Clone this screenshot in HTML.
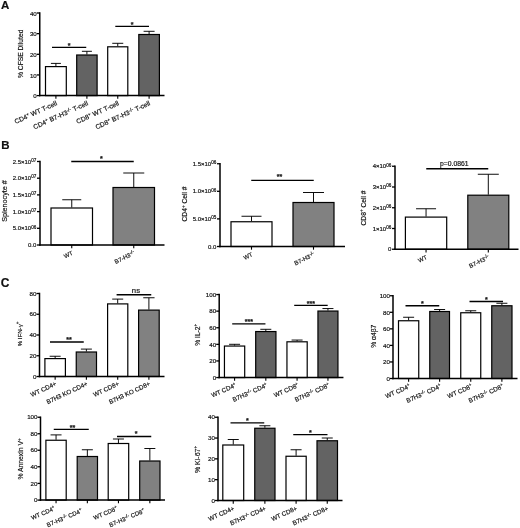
<!DOCTYPE html>
<html><head><meta charset="utf-8"><title>Figure</title>
<style>
html,body{margin:0;padding:0;background:#fff;}
svg{display:block;filter:blur(0.3px);font-family:"Liberation Sans","DejaVu Sans",sans-serif;fill:#111;}
svg text{fill:#111;stroke:#111;stroke-width:0.18px;}
</style></head><body>
<svg width="520" height="528" viewBox="0 0 520 528">
<rect x="0" y="0" width="520" height="528" fill="#fff"/>
<g transform="translate(0 0)">
<line x1="55.90" y1="63.40" x2="55.90" y2="66.10" stroke="#000" stroke-width="0.95" stroke-linecap="butt"/>
<line x1="50.90" y1="63.40" x2="60.90" y2="63.40" stroke="#000" stroke-width="0.95" stroke-linecap="butt"/>
<rect x="45.50" y="66.60" width="20.80" height="29.00" fill="#ffffff" stroke="#000" stroke-width="1.2"/>
<line x1="55.90" y1="95.60" x2="55.90" y2="98.80" stroke="#000" stroke-width="1.1" stroke-linecap="butt"/>
<line x1="86.90" y1="51.30" x2="86.90" y2="54.50" stroke="#000" stroke-width="0.95" stroke-linecap="butt"/>
<line x1="81.90" y1="51.30" x2="91.90" y2="51.30" stroke="#000" stroke-width="0.95" stroke-linecap="butt"/>
<rect x="76.70" y="55.00" width="20.40" height="40.60" fill="#636363" stroke="#000" stroke-width="1.2"/>
<line x1="86.90" y1="95.60" x2="86.90" y2="98.80" stroke="#000" stroke-width="1.1" stroke-linecap="butt"/>
<line x1="117.75" y1="43.30" x2="117.75" y2="46.30" stroke="#000" stroke-width="0.95" stroke-linecap="butt"/>
<line x1="112.25" y1="43.30" x2="123.25" y2="43.30" stroke="#000" stroke-width="0.95" stroke-linecap="butt"/>
<rect x="107.70" y="46.80" width="20.10" height="48.80" fill="#ffffff" stroke="#000" stroke-width="1.2"/>
<line x1="117.75" y1="95.60" x2="117.75" y2="98.80" stroke="#000" stroke-width="1.1" stroke-linecap="butt"/>
<line x1="149.10" y1="31.30" x2="149.10" y2="34.00" stroke="#000" stroke-width="0.95" stroke-linecap="butt"/>
<line x1="143.60" y1="31.30" x2="154.60" y2="31.30" stroke="#000" stroke-width="0.95" stroke-linecap="butt"/>
<rect x="138.80" y="34.50" width="20.60" height="61.10" fill="#636363" stroke="#000" stroke-width="1.2"/>
<line x1="149.10" y1="95.60" x2="149.10" y2="98.80" stroke="#000" stroke-width="1.1" stroke-linecap="butt"/>
<line x1="39.75" y1="12.25" x2="39.75" y2="96.35" stroke="#000" stroke-width="1.5" stroke-linecap="butt"/>
<line x1="39.00" y1="95.60" x2="164.50" y2="95.60" stroke="#000" stroke-width="1.5" stroke-linecap="butt"/>
<line x1="36.75" y1="13.00" x2="39.75" y2="13.00" stroke="#000" stroke-width="1.3" stroke-linecap="butt"/>
<text x="36.75" y="15.70" font-size="6.1" text-anchor="end" font-weight="normal">40</text>
<line x1="36.75" y1="33.65" x2="39.75" y2="33.65" stroke="#000" stroke-width="1.3" stroke-linecap="butt"/>
<text x="36.75" y="36.35" font-size="6.1" text-anchor="end" font-weight="normal">30</text>
<line x1="36.75" y1="54.30" x2="39.75" y2="54.30" stroke="#000" stroke-width="1.3" stroke-linecap="butt"/>
<text x="36.75" y="57.00" font-size="6.1" text-anchor="end" font-weight="normal">20</text>
<line x1="36.75" y1="74.95" x2="39.75" y2="74.95" stroke="#000" stroke-width="1.3" stroke-linecap="butt"/>
<text x="36.75" y="77.65" font-size="6.1" text-anchor="end" font-weight="normal">10</text>
<line x1="36.75" y1="95.60" x2="39.75" y2="95.60" stroke="#000" stroke-width="1.3" stroke-linecap="butt"/>
<text x="36.75" y="98.30" font-size="6.1" text-anchor="end" font-weight="normal">0</text>
<line x1="52.00" y1="47.40" x2="86.25" y2="47.40" stroke="#000" stroke-width="1.3" stroke-linecap="butt"/>
<text x="69.12" y="47.80" font-size="7.0" text-anchor="middle" font-weight="bold">*</text>
<line x1="115.30" y1="26.30" x2="149.00" y2="26.30" stroke="#000" stroke-width="1.3" stroke-linecap="butt"/>
<text x="132.15" y="26.70" font-size="7.0" text-anchor="middle" font-weight="bold">*</text>
<text x="22.60" y="53.80" font-size="6.7" text-anchor="middle" font-weight="normal" transform="rotate(-90 22.60 53.80)">% CFSE Diluted</text>
<text x="57.50" y="104.90" font-size="6.7" text-anchor="end" font-weight="normal" transform="rotate(-24.5 57.50 104.90)">CD4<tspan dy="-2.4" font-size="4.5">+</tspan><tspan dy="2.4" font-size="1">&#8203;</tspan> WT T-cell</text>
<text x="88.50" y="104.90" font-size="6.7" text-anchor="end" font-weight="normal" transform="rotate(-24.5 88.50 104.90)">CD4<tspan dy="-2.4" font-size="4.5">+</tspan><tspan dy="2.4" font-size="1">&#8203;</tspan> B7-H3<tspan dy="-2.0" font-size="5.0">-/-</tspan><tspan dy="2.0" font-size="1">&#8203;</tspan> T-cell</text>
<text x="119.35" y="104.90" font-size="6.7" text-anchor="end" font-weight="normal" transform="rotate(-24.5 119.35 104.90)">CD8<tspan dy="-2.4" font-size="4.5">+</tspan><tspan dy="2.4" font-size="1">&#8203;</tspan> WT T-cell</text>
<text x="150.70" y="104.90" font-size="6.7" text-anchor="end" font-weight="normal" transform="rotate(-24.5 150.70 104.90)">CD8<tspan dy="-2.4" font-size="4.5">+</tspan><tspan dy="2.4" font-size="1">&#8203;</tspan> B7-H3<tspan dy="-2.0" font-size="5.0">-/-</tspan><tspan dy="2.0" font-size="1">&#8203;</tspan> T-cell</text>
</g>
<g transform="translate(0 0)">
<line x1="71.75" y1="199.75" x2="71.75" y2="207.50" stroke="#000" stroke-width="0.95" stroke-linecap="butt"/>
<line x1="62.25" y1="199.75" x2="81.25" y2="199.75" stroke="#000" stroke-width="0.95" stroke-linecap="butt"/>
<rect x="51.00" y="208.00" width="41.50" height="37.00" fill="#ffffff" stroke="#000" stroke-width="1.2"/>
<line x1="71.75" y1="245.00" x2="71.75" y2="248.20" stroke="#000" stroke-width="1.1" stroke-linecap="butt"/>
<line x1="133.75" y1="173.00" x2="133.75" y2="187.00" stroke="#000" stroke-width="0.95" stroke-linecap="butt"/>
<line x1="123.25" y1="173.00" x2="144.25" y2="173.00" stroke="#000" stroke-width="0.95" stroke-linecap="butt"/>
<rect x="113.00" y="187.50" width="41.50" height="57.50" fill="#818181" stroke="#000" stroke-width="1.2"/>
<line x1="133.75" y1="245.00" x2="133.75" y2="248.20" stroke="#000" stroke-width="1.1" stroke-linecap="butt"/>
<line x1="40.00" y1="160.75" x2="40.00" y2="245.75" stroke="#000" stroke-width="1.5" stroke-linecap="butt"/>
<line x1="39.25" y1="245.00" x2="164.50" y2="245.00" stroke="#000" stroke-width="1.5" stroke-linecap="butt"/>
<line x1="37.00" y1="161.50" x2="40.00" y2="161.50" stroke="#000" stroke-width="1.3" stroke-linecap="butt"/>
<text x="36.30" y="163.66" font-size="6.0" text-anchor="end" font-weight="normal">2.5×10<tspan dy="-1.9" font-size="4.6">07</tspan><tspan dy="1.9" font-size="1">&#8203;</tspan></text>
<line x1="37.00" y1="178.20" x2="40.00" y2="178.20" stroke="#000" stroke-width="1.3" stroke-linecap="butt"/>
<text x="36.30" y="180.36" font-size="6.0" text-anchor="end" font-weight="normal">2.0×10<tspan dy="-1.9" font-size="4.6">07</tspan><tspan dy="1.9" font-size="1">&#8203;</tspan></text>
<line x1="37.00" y1="194.90" x2="40.00" y2="194.90" stroke="#000" stroke-width="1.3" stroke-linecap="butt"/>
<text x="36.30" y="197.06" font-size="6.0" text-anchor="end" font-weight="normal">1.5×10<tspan dy="-1.9" font-size="4.6">07</tspan><tspan dy="1.9" font-size="1">&#8203;</tspan></text>
<line x1="37.00" y1="211.60" x2="40.00" y2="211.60" stroke="#000" stroke-width="1.3" stroke-linecap="butt"/>
<text x="36.30" y="213.76" font-size="6.0" text-anchor="end" font-weight="normal">1.0×10<tspan dy="-1.9" font-size="4.6">07</tspan><tspan dy="1.9" font-size="1">&#8203;</tspan></text>
<line x1="37.00" y1="228.30" x2="40.00" y2="228.30" stroke="#000" stroke-width="1.3" stroke-linecap="butt"/>
<text x="36.30" y="230.46" font-size="6.0" text-anchor="end" font-weight="normal">5.0×10<tspan dy="-1.9" font-size="4.6">06</tspan><tspan dy="1.9" font-size="1">&#8203;</tspan></text>
<line x1="37.00" y1="245.00" x2="40.00" y2="245.00" stroke="#000" stroke-width="1.3" stroke-linecap="butt"/>
<text x="36.30" y="247.16" font-size="6.0" text-anchor="end" font-weight="normal">0.0</text>
<line x1="71.25" y1="161.50" x2="133.75" y2="161.50" stroke="#000" stroke-width="1.3" stroke-linecap="butt"/>
<text x="101.30" y="161.45" font-size="7.0" text-anchor="middle" font-weight="bold">*</text>
<text x="6.60" y="201.00" font-size="7.2" text-anchor="middle" font-weight="normal" transform="rotate(-90 6.60 201.00)">Splenocyte #</text>
<text x="73.35" y="254.40" font-size="6.0" text-anchor="end" font-weight="normal" transform="rotate(-26 73.35 254.40)">WT</text>
<text x="135.35" y="254.40" font-size="6.0" text-anchor="end" font-weight="normal" transform="rotate(-26 135.35 254.40)">B7-H3<tspan dy="-2.0" font-size="5.0">-/-</tspan><tspan dy="2.0" font-size="1">&#8203;</tspan></text>
</g>
<g transform="translate(0 0)">
<line x1="251.50" y1="216.25" x2="251.50" y2="221.25" stroke="#000" stroke-width="0.95" stroke-linecap="butt"/>
<line x1="241.50" y1="216.25" x2="261.50" y2="216.25" stroke="#000" stroke-width="0.95" stroke-linecap="butt"/>
<rect x="231.00" y="221.75" width="41.00" height="24.75" fill="#ffffff" stroke="#000" stroke-width="1.2"/>
<line x1="251.50" y1="246.50" x2="251.50" y2="249.70" stroke="#000" stroke-width="1.1" stroke-linecap="butt"/>
<line x1="313.50" y1="192.50" x2="313.50" y2="202.00" stroke="#000" stroke-width="0.95" stroke-linecap="butt"/>
<line x1="303.00" y1="192.50" x2="324.00" y2="192.50" stroke="#000" stroke-width="0.95" stroke-linecap="butt"/>
<rect x="293.00" y="202.50" width="41.00" height="44.00" fill="#818181" stroke="#000" stroke-width="1.2"/>
<line x1="313.50" y1="246.50" x2="313.50" y2="249.70" stroke="#000" stroke-width="1.1" stroke-linecap="butt"/>
<line x1="220.00" y1="163.00" x2="220.00" y2="247.25" stroke="#000" stroke-width="1.5" stroke-linecap="butt"/>
<line x1="219.25" y1="246.50" x2="345.00" y2="246.50" stroke="#000" stroke-width="1.5" stroke-linecap="butt"/>
<line x1="217.00" y1="163.75" x2="220.00" y2="163.75" stroke="#000" stroke-width="1.3" stroke-linecap="butt"/>
<text x="216.30" y="165.91" font-size="6.0" text-anchor="end" font-weight="normal">1.5×10<tspan dy="-1.9" font-size="4.6">06</tspan><tspan dy="1.9" font-size="1">&#8203;</tspan></text>
<line x1="217.00" y1="191.30" x2="220.00" y2="191.30" stroke="#000" stroke-width="1.3" stroke-linecap="butt"/>
<text x="216.30" y="193.46" font-size="6.0" text-anchor="end" font-weight="normal">1.0×10<tspan dy="-1.9" font-size="4.6">06</tspan><tspan dy="1.9" font-size="1">&#8203;</tspan></text>
<line x1="217.00" y1="218.90" x2="220.00" y2="218.90" stroke="#000" stroke-width="1.3" stroke-linecap="butt"/>
<text x="216.30" y="221.06" font-size="6.0" text-anchor="end" font-weight="normal">5.0×10<tspan dy="-1.9" font-size="4.6">05</tspan><tspan dy="1.9" font-size="1">&#8203;</tspan></text>
<line x1="217.00" y1="246.50" x2="220.00" y2="246.50" stroke="#000" stroke-width="1.3" stroke-linecap="butt"/>
<text x="216.30" y="248.66" font-size="6.0" text-anchor="end" font-weight="normal">0.0</text>
<line x1="251.25" y1="180.30" x2="313.75" y2="180.30" stroke="#000" stroke-width="1.3" stroke-linecap="butt"/>
<text x="279.60" y="178.60" font-size="7.0" text-anchor="middle" font-weight="bold">**</text>
<text x="187.00" y="204.00" font-size="6.7" text-anchor="middle" font-weight="normal" transform="rotate(-90 187.00 204.00)">CD4<tspan dy="-2.4" font-size="4.5">+</tspan><tspan dy="2.4" font-size="1">&#8203;</tspan> Cell #</text>
<text x="253.10" y="255.90" font-size="6.0" text-anchor="end" font-weight="normal" transform="rotate(-26 253.10 255.90)">WT</text>
<text x="315.10" y="255.90" font-size="6.0" text-anchor="end" font-weight="normal" transform="rotate(-26 315.10 255.90)">B7-H3<tspan dy="-2.0" font-size="5.0">-/-</tspan><tspan dy="2.0" font-size="1">&#8203;</tspan></text>
</g>
<g transform="translate(0 0.5)">
<line x1="426.05" y1="208.25" x2="426.05" y2="216.10" stroke="#000" stroke-width="0.95" stroke-linecap="butt"/>
<line x1="416.05" y1="208.25" x2="436.05" y2="208.25" stroke="#000" stroke-width="0.95" stroke-linecap="butt"/>
<rect x="405.40" y="216.60" width="41.30" height="32.15" fill="#ffffff" stroke="#000" stroke-width="1.2"/>
<line x1="426.05" y1="248.75" x2="426.05" y2="251.95" stroke="#000" stroke-width="1.1" stroke-linecap="butt"/>
<line x1="488.30" y1="173.75" x2="488.30" y2="194.20" stroke="#000" stroke-width="0.95" stroke-linecap="butt"/>
<line x1="477.80" y1="173.75" x2="498.80" y2="173.75" stroke="#000" stroke-width="0.95" stroke-linecap="butt"/>
<rect x="467.80" y="194.70" width="41.00" height="54.05" fill="#818181" stroke="#000" stroke-width="1.2"/>
<line x1="488.30" y1="248.75" x2="488.30" y2="251.95" stroke="#000" stroke-width="1.1" stroke-linecap="butt"/>
<line x1="395.00" y1="165.00" x2="395.00" y2="249.50" stroke="#000" stroke-width="1.5" stroke-linecap="butt"/>
<line x1="394.25" y1="248.75" x2="518.50" y2="248.75" stroke="#000" stroke-width="1.5" stroke-linecap="butt"/>
<line x1="392.00" y1="165.75" x2="395.00" y2="165.75" stroke="#000" stroke-width="1.3" stroke-linecap="butt"/>
<text x="391.30" y="167.91" font-size="6.0" text-anchor="end" font-weight="normal">4×10<tspan dy="-1.9" font-size="4.6">06</tspan><tspan dy="1.9" font-size="1">&#8203;</tspan></text>
<line x1="392.00" y1="186.50" x2="395.00" y2="186.50" stroke="#000" stroke-width="1.3" stroke-linecap="butt"/>
<text x="391.30" y="188.66" font-size="6.0" text-anchor="end" font-weight="normal">3×10<tspan dy="-1.9" font-size="4.6">06</tspan><tspan dy="1.9" font-size="1">&#8203;</tspan></text>
<line x1="392.00" y1="207.25" x2="395.00" y2="207.25" stroke="#000" stroke-width="1.3" stroke-linecap="butt"/>
<text x="391.30" y="209.41" font-size="6.0" text-anchor="end" font-weight="normal">2×10<tspan dy="-1.9" font-size="4.6">06</tspan><tspan dy="1.9" font-size="1">&#8203;</tspan></text>
<line x1="392.00" y1="228.00" x2="395.00" y2="228.00" stroke="#000" stroke-width="1.3" stroke-linecap="butt"/>
<text x="391.30" y="230.16" font-size="6.0" text-anchor="end" font-weight="normal">1×10<tspan dy="-1.9" font-size="4.6">06</tspan><tspan dy="1.9" font-size="1">&#8203;</tspan></text>
<line x1="392.00" y1="248.75" x2="395.00" y2="248.75" stroke="#000" stroke-width="1.3" stroke-linecap="butt"/>
<text x="391.30" y="250.91" font-size="6.0" text-anchor="end" font-weight="normal">0</text>
<line x1="426.25" y1="168.25" x2="488.25" y2="168.25" stroke="#000" stroke-width="1.3" stroke-linecap="butt"/>
<text x="454.25" y="165.05" font-size="6.8" text-anchor="middle" font-weight="normal">p=0.0861</text>
<text x="365.60" y="207.50" font-size="6.7" text-anchor="middle" font-weight="normal" transform="rotate(-90 365.60 207.50)">CD8<tspan dy="-2.4" font-size="4.5">+</tspan><tspan dy="2.4" font-size="1">&#8203;</tspan> Cell #</text>
<text x="427.65" y="258.15" font-size="6.0" text-anchor="end" font-weight="normal" transform="rotate(-26 427.65 258.15)">WT</text>
<text x="489.90" y="258.15" font-size="6.0" text-anchor="end" font-weight="normal" transform="rotate(-26 489.90 258.15)">B7-H3<tspan dy="-2.0" font-size="5.0">-/-</tspan><tspan dy="2.0" font-size="1">&#8203;</tspan></text>
</g>
<g transform="translate(0 0)">
<line x1="55.15" y1="356.25" x2="55.15" y2="358.10" stroke="#000" stroke-width="0.95" stroke-linecap="butt"/>
<line x1="49.65" y1="356.25" x2="60.65" y2="356.25" stroke="#000" stroke-width="0.95" stroke-linecap="butt"/>
<rect x="44.90" y="358.60" width="20.50" height="17.90" fill="#ffffff" stroke="#000" stroke-width="1.2"/>
<line x1="55.15" y1="376.50" x2="55.15" y2="379.70" stroke="#000" stroke-width="1.1" stroke-linecap="butt"/>
<line x1="86.38" y1="349.10" x2="86.38" y2="351.50" stroke="#000" stroke-width="0.95" stroke-linecap="butt"/>
<line x1="80.88" y1="349.10" x2="91.88" y2="349.10" stroke="#000" stroke-width="0.95" stroke-linecap="butt"/>
<rect x="76.25" y="352.00" width="20.25" height="24.50" fill="#818181" stroke="#000" stroke-width="1.2"/>
<line x1="86.38" y1="376.50" x2="86.38" y2="379.70" stroke="#000" stroke-width="1.1" stroke-linecap="butt"/>
<line x1="117.70" y1="299.10" x2="117.70" y2="303.40" stroke="#000" stroke-width="0.95" stroke-linecap="butt"/>
<line x1="112.20" y1="299.10" x2="123.20" y2="299.10" stroke="#000" stroke-width="0.95" stroke-linecap="butt"/>
<rect x="107.60" y="303.90" width="20.20" height="72.60" fill="#ffffff" stroke="#000" stroke-width="1.2"/>
<line x1="117.70" y1="376.50" x2="117.70" y2="379.70" stroke="#000" stroke-width="1.1" stroke-linecap="butt"/>
<line x1="148.90" y1="297.75" x2="148.90" y2="309.60" stroke="#000" stroke-width="0.95" stroke-linecap="butt"/>
<line x1="143.25" y1="297.75" x2="154.55" y2="297.75" stroke="#000" stroke-width="0.95" stroke-linecap="butt"/>
<rect x="138.60" y="310.10" width="20.60" height="66.40" fill="#818181" stroke="#000" stroke-width="1.2"/>
<line x1="148.90" y1="376.50" x2="148.90" y2="379.70" stroke="#000" stroke-width="1.1" stroke-linecap="butt"/>
<line x1="39.50" y1="292.75" x2="39.50" y2="377.25" stroke="#000" stroke-width="1.5" stroke-linecap="butt"/>
<line x1="38.75" y1="376.50" x2="164.50" y2="376.50" stroke="#000" stroke-width="1.5" stroke-linecap="butt"/>
<line x1="36.50" y1="293.50" x2="39.50" y2="293.50" stroke="#000" stroke-width="1.3" stroke-linecap="butt"/>
<text x="36.50" y="295.73" font-size="6.2" text-anchor="end" font-weight="normal">80</text>
<line x1="36.50" y1="314.25" x2="39.50" y2="314.25" stroke="#000" stroke-width="1.3" stroke-linecap="butt"/>
<text x="36.50" y="316.48" font-size="6.2" text-anchor="end" font-weight="normal">60</text>
<line x1="36.50" y1="335.00" x2="39.50" y2="335.00" stroke="#000" stroke-width="1.3" stroke-linecap="butt"/>
<text x="36.50" y="337.23" font-size="6.2" text-anchor="end" font-weight="normal">40</text>
<line x1="36.50" y1="355.75" x2="39.50" y2="355.75" stroke="#000" stroke-width="1.3" stroke-linecap="butt"/>
<text x="36.50" y="357.98" font-size="6.2" text-anchor="end" font-weight="normal">20</text>
<line x1="36.50" y1="376.50" x2="39.50" y2="376.50" stroke="#000" stroke-width="1.3" stroke-linecap="butt"/>
<text x="36.50" y="378.73" font-size="6.2" text-anchor="end" font-weight="normal">0</text>
<line x1="50.00" y1="342.00" x2="83.75" y2="342.00" stroke="#000" stroke-width="1.3" stroke-linecap="butt"/>
<text x="68.97" y="341.70" font-size="7.0" text-anchor="middle" font-weight="bold">**</text>
<line x1="116.60" y1="294.75" x2="151.25" y2="294.75" stroke="#000" stroke-width="1.3" stroke-linecap="butt"/>
<text x="135.93" y="292.85" font-size="7.7" text-anchor="middle" font-weight="normal">ns</text>
<text x="21.80" y="334.00" font-size="6.1" text-anchor="middle" font-weight="normal" transform="rotate(-90 21.80 334.00)">% IFN-γ<tspan dy="-2.4" font-size="4.5">+</tspan><tspan dy="2.4" font-size="1">&#8203;</tspan></text>
<text x="56.95" y="385.30" font-size="6.3" text-anchor="end" font-weight="normal" transform="rotate(-25 56.95 385.30)">WT CD4+</text>
<text x="88.17" y="385.30" font-size="6.3" text-anchor="end" font-weight="normal" transform="rotate(-25 88.17 385.30)">B7H3 KO CD4+</text>
<text x="119.50" y="385.30" font-size="6.3" text-anchor="end" font-weight="normal" transform="rotate(-25 119.50 385.30)">WT CD8+</text>
<text x="150.70" y="385.30" font-size="6.3" text-anchor="end" font-weight="normal" transform="rotate(-25 150.70 385.30)">B7H3 KO CD8+</text>
</g>
<g transform="translate(-0.3 -0.2)">
<line x1="234.88" y1="344.50" x2="234.88" y2="345.75" stroke="#000" stroke-width="0.95" stroke-linecap="butt"/>
<line x1="229.38" y1="344.50" x2="240.38" y2="344.50" stroke="#000" stroke-width="0.95" stroke-linecap="butt"/>
<rect x="224.75" y="346.25" width="20.25" height="31.50" fill="#ffffff" stroke="#000" stroke-width="1.2"/>
<line x1="234.88" y1="377.75" x2="234.88" y2="380.95" stroke="#000" stroke-width="1.1" stroke-linecap="butt"/>
<line x1="266.12" y1="329.50" x2="266.12" y2="331.25" stroke="#000" stroke-width="0.95" stroke-linecap="butt"/>
<line x1="260.62" y1="329.50" x2="271.62" y2="329.50" stroke="#000" stroke-width="0.95" stroke-linecap="butt"/>
<rect x="256.00" y="331.75" width="20.25" height="46.00" fill="#636363" stroke="#000" stroke-width="1.2"/>
<line x1="266.12" y1="377.75" x2="266.12" y2="380.95" stroke="#000" stroke-width="1.1" stroke-linecap="butt"/>
<line x1="297.38" y1="340.25" x2="297.38" y2="341.50" stroke="#000" stroke-width="0.95" stroke-linecap="butt"/>
<line x1="291.88" y1="340.25" x2="302.88" y2="340.25" stroke="#000" stroke-width="0.95" stroke-linecap="butt"/>
<rect x="287.25" y="342.00" width="20.25" height="35.75" fill="#ffffff" stroke="#000" stroke-width="1.2"/>
<line x1="297.38" y1="377.75" x2="297.38" y2="380.95" stroke="#000" stroke-width="1.1" stroke-linecap="butt"/>
<line x1="328.25" y1="308.75" x2="328.25" y2="310.75" stroke="#000" stroke-width="0.95" stroke-linecap="butt"/>
<line x1="322.75" y1="308.75" x2="333.75" y2="308.75" stroke="#000" stroke-width="0.95" stroke-linecap="butt"/>
<rect x="318.25" y="311.25" width="20.00" height="66.50" fill="#636363" stroke="#000" stroke-width="1.2"/>
<line x1="328.25" y1="377.75" x2="328.25" y2="380.95" stroke="#000" stroke-width="1.1" stroke-linecap="butt"/>
<line x1="219.50" y1="294.00" x2="219.50" y2="378.50" stroke="#000" stroke-width="1.5" stroke-linecap="butt"/>
<line x1="218.75" y1="377.75" x2="343.75" y2="377.75" stroke="#000" stroke-width="1.5" stroke-linecap="butt"/>
<line x1="216.50" y1="294.75" x2="219.50" y2="294.75" stroke="#000" stroke-width="1.3" stroke-linecap="butt"/>
<text x="216.50" y="296.98" font-size="6.2" text-anchor="end" font-weight="normal">100</text>
<line x1="216.50" y1="311.35" x2="219.50" y2="311.35" stroke="#000" stroke-width="1.3" stroke-linecap="butt"/>
<text x="216.50" y="313.58" font-size="6.2" text-anchor="end" font-weight="normal">80</text>
<line x1="216.50" y1="327.95" x2="219.50" y2="327.95" stroke="#000" stroke-width="1.3" stroke-linecap="butt"/>
<text x="216.50" y="330.18" font-size="6.2" text-anchor="end" font-weight="normal">60</text>
<line x1="216.50" y1="344.55" x2="219.50" y2="344.55" stroke="#000" stroke-width="1.3" stroke-linecap="butt"/>
<text x="216.50" y="346.78" font-size="6.2" text-anchor="end" font-weight="normal">40</text>
<line x1="216.50" y1="361.15" x2="219.50" y2="361.15" stroke="#000" stroke-width="1.3" stroke-linecap="butt"/>
<text x="216.50" y="363.38" font-size="6.2" text-anchor="end" font-weight="normal">20</text>
<line x1="216.50" y1="377.75" x2="219.50" y2="377.75" stroke="#000" stroke-width="1.3" stroke-linecap="butt"/>
<text x="216.50" y="379.98" font-size="6.2" text-anchor="end" font-weight="normal">0</text>
<line x1="232.50" y1="324.00" x2="265.75" y2="324.00" stroke="#000" stroke-width="1.3" stroke-linecap="butt"/>
<text x="249.12" y="324.60" font-size="7.0" text-anchor="middle" font-weight="bold">***</text>
<line x1="294.50" y1="305.60" x2="328.00" y2="305.60" stroke="#000" stroke-width="1.3" stroke-linecap="butt"/>
<text x="311.25" y="306.20" font-size="7.0" text-anchor="middle" font-weight="bold">***</text>
<text x="200.00" y="335.00" font-size="6.7" text-anchor="middle" font-weight="normal" transform="rotate(-90 200.00 335.00)">% IL-2<tspan dy="-2.4" font-size="4.5">+</tspan><tspan dy="2.4" font-size="1">&#8203;</tspan></text>
<text x="237.07" y="386.95" font-size="6.3" text-anchor="end" font-weight="normal" transform="rotate(-24 237.07 386.95)">WT CD4<tspan dy="-2.4" font-size="4.5">+</tspan><tspan dy="2.4" font-size="1">&#8203;</tspan></text>
<text x="268.32" y="386.95" font-size="6.3" text-anchor="end" font-weight="normal" transform="rotate(-24 268.32 386.95)">B7H3<tspan dy="-2.0" font-size="5.0">-/-</tspan><tspan dy="2.0" font-size="1">&#8203;</tspan> CD4<tspan dy="-2.4" font-size="4.5">+</tspan><tspan dy="2.4" font-size="1">&#8203;</tspan></text>
<text x="299.57" y="386.95" font-size="6.3" text-anchor="end" font-weight="normal" transform="rotate(-24 299.57 386.95)">WT CD8<tspan dy="-2.4" font-size="4.5">+</tspan><tspan dy="2.4" font-size="1">&#8203;</tspan></text>
<text x="330.45" y="386.95" font-size="6.3" text-anchor="end" font-weight="normal" transform="rotate(-24 330.45 386.95)">B7H3<tspan dy="-2.0" font-size="5.0">-/-</tspan><tspan dy="2.0" font-size="1">&#8203;</tspan> CD8<tspan dy="-2.4" font-size="4.5">+</tspan><tspan dy="2.4" font-size="1">&#8203;</tspan></text>
</g>
<g transform="translate(0 0)">
<line x1="408.62" y1="317.25" x2="408.62" y2="320.25" stroke="#000" stroke-width="0.95" stroke-linecap="butt"/>
<line x1="403.12" y1="317.25" x2="414.12" y2="317.25" stroke="#000" stroke-width="0.95" stroke-linecap="butt"/>
<rect x="398.50" y="320.75" width="20.25" height="57.75" fill="#ffffff" stroke="#000" stroke-width="1.2"/>
<line x1="408.62" y1="378.50" x2="408.62" y2="381.70" stroke="#000" stroke-width="1.1" stroke-linecap="butt"/>
<line x1="439.62" y1="309.50" x2="439.62" y2="311.00" stroke="#000" stroke-width="0.95" stroke-linecap="butt"/>
<line x1="434.12" y1="309.50" x2="445.12" y2="309.50" stroke="#000" stroke-width="0.95" stroke-linecap="butt"/>
<rect x="429.75" y="311.50" width="19.75" height="67.00" fill="#636363" stroke="#000" stroke-width="1.2"/>
<line x1="439.62" y1="378.50" x2="439.62" y2="381.70" stroke="#000" stroke-width="1.1" stroke-linecap="butt"/>
<line x1="470.75" y1="310.75" x2="470.75" y2="312.25" stroke="#000" stroke-width="0.95" stroke-linecap="butt"/>
<line x1="465.25" y1="310.75" x2="476.25" y2="310.75" stroke="#000" stroke-width="0.95" stroke-linecap="butt"/>
<rect x="460.75" y="312.75" width="20.00" height="65.75" fill="#ffffff" stroke="#000" stroke-width="1.2"/>
<line x1="470.75" y1="378.50" x2="470.75" y2="381.70" stroke="#000" stroke-width="1.1" stroke-linecap="butt"/>
<line x1="501.88" y1="303.25" x2="501.88" y2="305.25" stroke="#000" stroke-width="0.95" stroke-linecap="butt"/>
<line x1="496.38" y1="303.25" x2="507.38" y2="303.25" stroke="#000" stroke-width="0.95" stroke-linecap="butt"/>
<rect x="491.75" y="305.75" width="20.25" height="72.75" fill="#636363" stroke="#000" stroke-width="1.2"/>
<line x1="501.88" y1="378.50" x2="501.88" y2="381.70" stroke="#000" stroke-width="1.1" stroke-linecap="butt"/>
<line x1="393.00" y1="295.00" x2="393.00" y2="379.25" stroke="#000" stroke-width="1.5" stroke-linecap="butt"/>
<line x1="392.25" y1="378.50" x2="517.50" y2="378.50" stroke="#000" stroke-width="1.5" stroke-linecap="butt"/>
<line x1="390.00" y1="295.75" x2="393.00" y2="295.75" stroke="#000" stroke-width="1.3" stroke-linecap="butt"/>
<text x="390.00" y="297.98" font-size="6.2" text-anchor="end" font-weight="normal">100</text>
<line x1="390.00" y1="312.30" x2="393.00" y2="312.30" stroke="#000" stroke-width="1.3" stroke-linecap="butt"/>
<text x="390.00" y="314.53" font-size="6.2" text-anchor="end" font-weight="normal">80</text>
<line x1="390.00" y1="328.85" x2="393.00" y2="328.85" stroke="#000" stroke-width="1.3" stroke-linecap="butt"/>
<text x="390.00" y="331.08" font-size="6.2" text-anchor="end" font-weight="normal">60</text>
<line x1="390.00" y1="345.40" x2="393.00" y2="345.40" stroke="#000" stroke-width="1.3" stroke-linecap="butt"/>
<text x="390.00" y="347.63" font-size="6.2" text-anchor="end" font-weight="normal">40</text>
<line x1="390.00" y1="361.95" x2="393.00" y2="361.95" stroke="#000" stroke-width="1.3" stroke-linecap="butt"/>
<text x="390.00" y="364.18" font-size="6.2" text-anchor="end" font-weight="normal">20</text>
<line x1="390.00" y1="378.50" x2="393.00" y2="378.50" stroke="#000" stroke-width="1.3" stroke-linecap="butt"/>
<text x="390.00" y="380.73" font-size="6.2" text-anchor="end" font-weight="normal">0</text>
<line x1="405.50" y1="305.75" x2="439.25" y2="305.75" stroke="#000" stroke-width="1.3" stroke-linecap="butt"/>
<text x="422.38" y="306.15" font-size="7.0" text-anchor="middle" font-weight="bold">*</text>
<line x1="469.50" y1="301.50" x2="503.00" y2="301.50" stroke="#000" stroke-width="1.3" stroke-linecap="butt"/>
<text x="486.25" y="301.90" font-size="7.0" text-anchor="middle" font-weight="bold">*</text>
<text x="375.60" y="336.20" font-size="6.7" text-anchor="middle" font-weight="normal" transform="rotate(-90 375.60 336.20)">% α4β7</text>
<text x="410.82" y="387.70" font-size="6.3" text-anchor="end" font-weight="normal" transform="rotate(-24 410.82 387.70)">WT CD4<tspan dy="-2.4" font-size="4.5">+</tspan><tspan dy="2.4" font-size="1">&#8203;</tspan></text>
<text x="441.82" y="387.70" font-size="6.3" text-anchor="end" font-weight="normal" transform="rotate(-24 441.82 387.70)">B7H3<tspan dy="-2.0" font-size="5.0">-/-</tspan><tspan dy="2.0" font-size="1">&#8203;</tspan> CD4<tspan dy="-2.4" font-size="4.5">+</tspan><tspan dy="2.4" font-size="1">&#8203;</tspan></text>
<text x="472.95" y="387.70" font-size="6.3" text-anchor="end" font-weight="normal" transform="rotate(-24 472.95 387.70)">WT CD8<tspan dy="-2.4" font-size="4.5">+</tspan><tspan dy="2.4" font-size="1">&#8203;</tspan></text>
<text x="504.07" y="387.70" font-size="6.3" text-anchor="end" font-weight="normal" transform="rotate(-24 504.07 387.70)">B7H3<tspan dy="-2.0" font-size="5.0">-/-</tspan><tspan dy="2.0" font-size="1">&#8203;</tspan> CD8<tspan dy="-2.4" font-size="4.5">+</tspan><tspan dy="2.4" font-size="1">&#8203;</tspan></text>
</g>
<g transform="translate(0 0)">
<line x1="56.05" y1="434.90" x2="56.05" y2="439.75" stroke="#000" stroke-width="0.95" stroke-linecap="butt"/>
<line x1="50.55" y1="434.90" x2="61.55" y2="434.90" stroke="#000" stroke-width="0.95" stroke-linecap="butt"/>
<rect x="45.90" y="440.25" width="20.30" height="59.85" fill="#ffffff" stroke="#000" stroke-width="1.2"/>
<line x1="56.05" y1="500.10" x2="56.05" y2="503.30" stroke="#000" stroke-width="1.1" stroke-linecap="butt"/>
<line x1="87.35" y1="449.75" x2="87.35" y2="456.00" stroke="#000" stroke-width="0.95" stroke-linecap="butt"/>
<line x1="81.85" y1="449.75" x2="92.85" y2="449.75" stroke="#000" stroke-width="0.95" stroke-linecap="butt"/>
<rect x="77.20" y="456.50" width="20.30" height="43.60" fill="#818181" stroke="#000" stroke-width="1.2"/>
<line x1="87.35" y1="500.10" x2="87.35" y2="503.30" stroke="#000" stroke-width="1.1" stroke-linecap="butt"/>
<line x1="118.45" y1="439.00" x2="118.45" y2="443.00" stroke="#000" stroke-width="0.95" stroke-linecap="butt"/>
<line x1="112.95" y1="439.00" x2="123.95" y2="439.00" stroke="#000" stroke-width="0.95" stroke-linecap="butt"/>
<rect x="108.20" y="443.50" width="20.50" height="56.60" fill="#ffffff" stroke="#000" stroke-width="1.2"/>
<line x1="118.45" y1="500.10" x2="118.45" y2="503.30" stroke="#000" stroke-width="1.1" stroke-linecap="butt"/>
<line x1="149.85" y1="448.50" x2="149.85" y2="460.50" stroke="#000" stroke-width="0.95" stroke-linecap="butt"/>
<line x1="144.35" y1="448.50" x2="155.35" y2="448.50" stroke="#000" stroke-width="0.95" stroke-linecap="butt"/>
<rect x="139.70" y="461.00" width="20.30" height="39.10" fill="#818181" stroke="#000" stroke-width="1.2"/>
<line x1="149.85" y1="500.10" x2="149.85" y2="503.30" stroke="#000" stroke-width="1.1" stroke-linecap="butt"/>
<line x1="40.50" y1="416.50" x2="40.50" y2="500.85" stroke="#000" stroke-width="1.5" stroke-linecap="butt"/>
<line x1="39.75" y1="500.10" x2="165.00" y2="500.10" stroke="#000" stroke-width="1.5" stroke-linecap="butt"/>
<line x1="37.50" y1="417.25" x2="40.50" y2="417.25" stroke="#000" stroke-width="1.3" stroke-linecap="butt"/>
<text x="37.50" y="419.48" font-size="6.2" text-anchor="end" font-weight="normal">100</text>
<line x1="37.50" y1="433.75" x2="40.50" y2="433.75" stroke="#000" stroke-width="1.3" stroke-linecap="butt"/>
<text x="37.50" y="435.98" font-size="6.2" text-anchor="end" font-weight="normal">80</text>
<line x1="37.50" y1="450.25" x2="40.50" y2="450.25" stroke="#000" stroke-width="1.3" stroke-linecap="butt"/>
<text x="37.50" y="452.48" font-size="6.2" text-anchor="end" font-weight="normal">60</text>
<line x1="37.50" y1="466.75" x2="40.50" y2="466.75" stroke="#000" stroke-width="1.3" stroke-linecap="butt"/>
<text x="37.50" y="468.98" font-size="6.2" text-anchor="end" font-weight="normal">40</text>
<line x1="37.50" y1="483.40" x2="40.50" y2="483.40" stroke="#000" stroke-width="1.3" stroke-linecap="butt"/>
<text x="37.50" y="485.63" font-size="6.2" text-anchor="end" font-weight="normal">20</text>
<line x1="37.50" y1="500.10" x2="40.50" y2="500.10" stroke="#000" stroke-width="1.3" stroke-linecap="butt"/>
<text x="37.50" y="502.33" font-size="6.2" text-anchor="end" font-weight="normal">0</text>
<line x1="53.75" y1="429.40" x2="88.75" y2="429.40" stroke="#000" stroke-width="1.3" stroke-linecap="butt"/>
<text x="72.45" y="429.70" font-size="7.0" text-anchor="middle" font-weight="bold">**</text>
<line x1="117.00" y1="436.50" x2="151.25" y2="436.50" stroke="#000" stroke-width="1.3" stroke-linecap="butt"/>
<text x="136.22" y="436.45" font-size="7.0" text-anchor="middle" font-weight="bold">*</text>
<text x="23.00" y="459.00" font-size="6.8" text-anchor="middle" font-weight="normal" transform="rotate(-90 23.00 459.00)">% Annexin V<tspan dy="-2.4" font-size="4.5">+</tspan><tspan dy="2.4" font-size="1">&#8203;</tspan></text>
<text x="55.65" y="510.00" font-size="6.0" text-anchor="end" font-weight="normal" transform="rotate(-23 55.65 510.00)">WT CD4<tspan dy="-2.4" font-size="4.5">+</tspan><tspan dy="2.4" font-size="1">&#8203;</tspan></text>
<text x="82.85" y="512.30" font-size="6.0" text-anchor="end" font-weight="normal" transform="rotate(-23 82.85 512.30)">B7-H3<tspan dy="-2.0" font-size="5.0">-/-</tspan><tspan dy="2.0" font-size="1">&#8203;</tspan> CD4<tspan dy="-2.4" font-size="4.5">+</tspan><tspan dy="2.4" font-size="1">&#8203;</tspan></text>
<text x="118.05" y="510.00" font-size="6.0" text-anchor="end" font-weight="normal" transform="rotate(-23 118.05 510.00)">WT CD8<tspan dy="-2.4" font-size="4.5">+</tspan><tspan dy="2.4" font-size="1">&#8203;</tspan></text>
<text x="145.35" y="512.30" font-size="6.0" text-anchor="end" font-weight="normal" transform="rotate(-23 145.35 512.30)">B7-H3<tspan dy="-2.0" font-size="5.0">-/-</tspan><tspan dy="2.0" font-size="1">&#8203;</tspan> CD8<tspan dy="-2.4" font-size="4.5">+</tspan><tspan dy="2.4" font-size="1">&#8203;</tspan></text>
</g>
<g transform="translate(0 0)">
<line x1="233.25" y1="439.50" x2="233.25" y2="444.50" stroke="#000" stroke-width="0.95" stroke-linecap="butt"/>
<line x1="227.75" y1="439.50" x2="238.75" y2="439.50" stroke="#000" stroke-width="0.95" stroke-linecap="butt"/>
<rect x="222.80" y="445.00" width="20.90" height="55.50" fill="#ffffff" stroke="#000" stroke-width="1.2"/>
<line x1="233.25" y1="500.50" x2="233.25" y2="503.70" stroke="#000" stroke-width="1.1" stroke-linecap="butt"/>
<line x1="264.88" y1="425.75" x2="264.88" y2="427.75" stroke="#000" stroke-width="0.95" stroke-linecap="butt"/>
<line x1="259.38" y1="425.75" x2="270.38" y2="425.75" stroke="#000" stroke-width="0.95" stroke-linecap="butt"/>
<rect x="254.75" y="428.25" width="20.25" height="72.25" fill="#636363" stroke="#000" stroke-width="1.2"/>
<line x1="264.88" y1="500.50" x2="264.88" y2="503.70" stroke="#000" stroke-width="1.1" stroke-linecap="butt"/>
<line x1="296.10" y1="449.75" x2="296.10" y2="455.75" stroke="#000" stroke-width="0.95" stroke-linecap="butt"/>
<line x1="290.60" y1="449.75" x2="301.60" y2="449.75" stroke="#000" stroke-width="0.95" stroke-linecap="butt"/>
<rect x="286.00" y="456.25" width="20.20" height="44.25" fill="#ffffff" stroke="#000" stroke-width="1.2"/>
<line x1="296.10" y1="500.50" x2="296.10" y2="503.70" stroke="#000" stroke-width="1.1" stroke-linecap="butt"/>
<line x1="327.25" y1="438.00" x2="327.25" y2="440.25" stroke="#000" stroke-width="0.95" stroke-linecap="butt"/>
<line x1="321.75" y1="438.00" x2="332.75" y2="438.00" stroke="#000" stroke-width="0.95" stroke-linecap="butt"/>
<rect x="317.00" y="440.75" width="20.50" height="59.75" fill="#636363" stroke="#000" stroke-width="1.2"/>
<line x1="327.25" y1="500.50" x2="327.25" y2="503.70" stroke="#000" stroke-width="1.1" stroke-linecap="butt"/>
<line x1="218.00" y1="416.50" x2="218.00" y2="501.25" stroke="#000" stroke-width="1.5" stroke-linecap="butt"/>
<line x1="217.25" y1="500.50" x2="342.50" y2="500.50" stroke="#000" stroke-width="1.5" stroke-linecap="butt"/>
<line x1="215.00" y1="417.25" x2="218.00" y2="417.25" stroke="#000" stroke-width="1.3" stroke-linecap="butt"/>
<text x="215.00" y="419.48" font-size="6.2" text-anchor="end" font-weight="normal">40</text>
<line x1="215.00" y1="438.05" x2="218.00" y2="438.05" stroke="#000" stroke-width="1.3" stroke-linecap="butt"/>
<text x="215.00" y="440.28" font-size="6.2" text-anchor="end" font-weight="normal">30</text>
<line x1="215.00" y1="458.85" x2="218.00" y2="458.85" stroke="#000" stroke-width="1.3" stroke-linecap="butt"/>
<text x="215.00" y="461.08" font-size="6.2" text-anchor="end" font-weight="normal">20</text>
<line x1="215.00" y1="479.65" x2="218.00" y2="479.65" stroke="#000" stroke-width="1.3" stroke-linecap="butt"/>
<text x="215.00" y="481.88" font-size="6.2" text-anchor="end" font-weight="normal">10</text>
<line x1="215.00" y1="500.50" x2="218.00" y2="500.50" stroke="#000" stroke-width="1.3" stroke-linecap="butt"/>
<text x="215.00" y="502.73" font-size="6.2" text-anchor="end" font-weight="normal">0</text>
<line x1="230.50" y1="422.80" x2="264.25" y2="422.80" stroke="#000" stroke-width="1.3" stroke-linecap="butt"/>
<text x="247.38" y="423.20" font-size="7.0" text-anchor="middle" font-weight="bold">*</text>
<line x1="293.25" y1="434.70" x2="327.50" y2="434.70" stroke="#000" stroke-width="1.3" stroke-linecap="butt"/>
<text x="310.38" y="435.10" font-size="7.0" text-anchor="middle" font-weight="bold">*</text>
<text x="199.60" y="459.50" font-size="7.0" text-anchor="middle" font-weight="normal" transform="rotate(-90 199.60 459.50)">% Ki-67<tspan dy="-2.4" font-size="4.5">+</tspan><tspan dy="2.4" font-size="1">&#8203;</tspan></text>
<text x="234.85" y="509.90" font-size="6.3" text-anchor="end" font-weight="normal" transform="rotate(-24 234.85 509.90)">WT CD4+</text>
<text x="266.48" y="509.90" font-size="6.3" text-anchor="end" font-weight="normal" transform="rotate(-24 266.48 509.90)">B7H3<tspan dy="-2.0" font-size="5.0">-/-</tspan><tspan dy="2.0" font-size="1">&#8203;</tspan> CD4+</text>
<text x="297.70" y="509.90" font-size="6.3" text-anchor="end" font-weight="normal" transform="rotate(-24 297.70 509.90)">WT CD8+</text>
<text x="328.85" y="509.90" font-size="6.3" text-anchor="end" font-weight="normal" transform="rotate(-24 328.85 509.90)">B7H3<tspan dy="-2.0" font-size="5.0">-/-</tspan><tspan dy="2.0" font-size="1">&#8203;</tspan> CD8+</text>
</g>
<text x="1.00" y="9.40" font-size="11.5" text-anchor="start" font-weight="bold">A</text>
<text x="1.30" y="148.80" font-size="11.5" text-anchor="start" font-weight="bold">B</text>
<text x="0.80" y="286.70" font-size="12" text-anchor="start" font-weight="bold">C</text>
</svg>
</body></html>
